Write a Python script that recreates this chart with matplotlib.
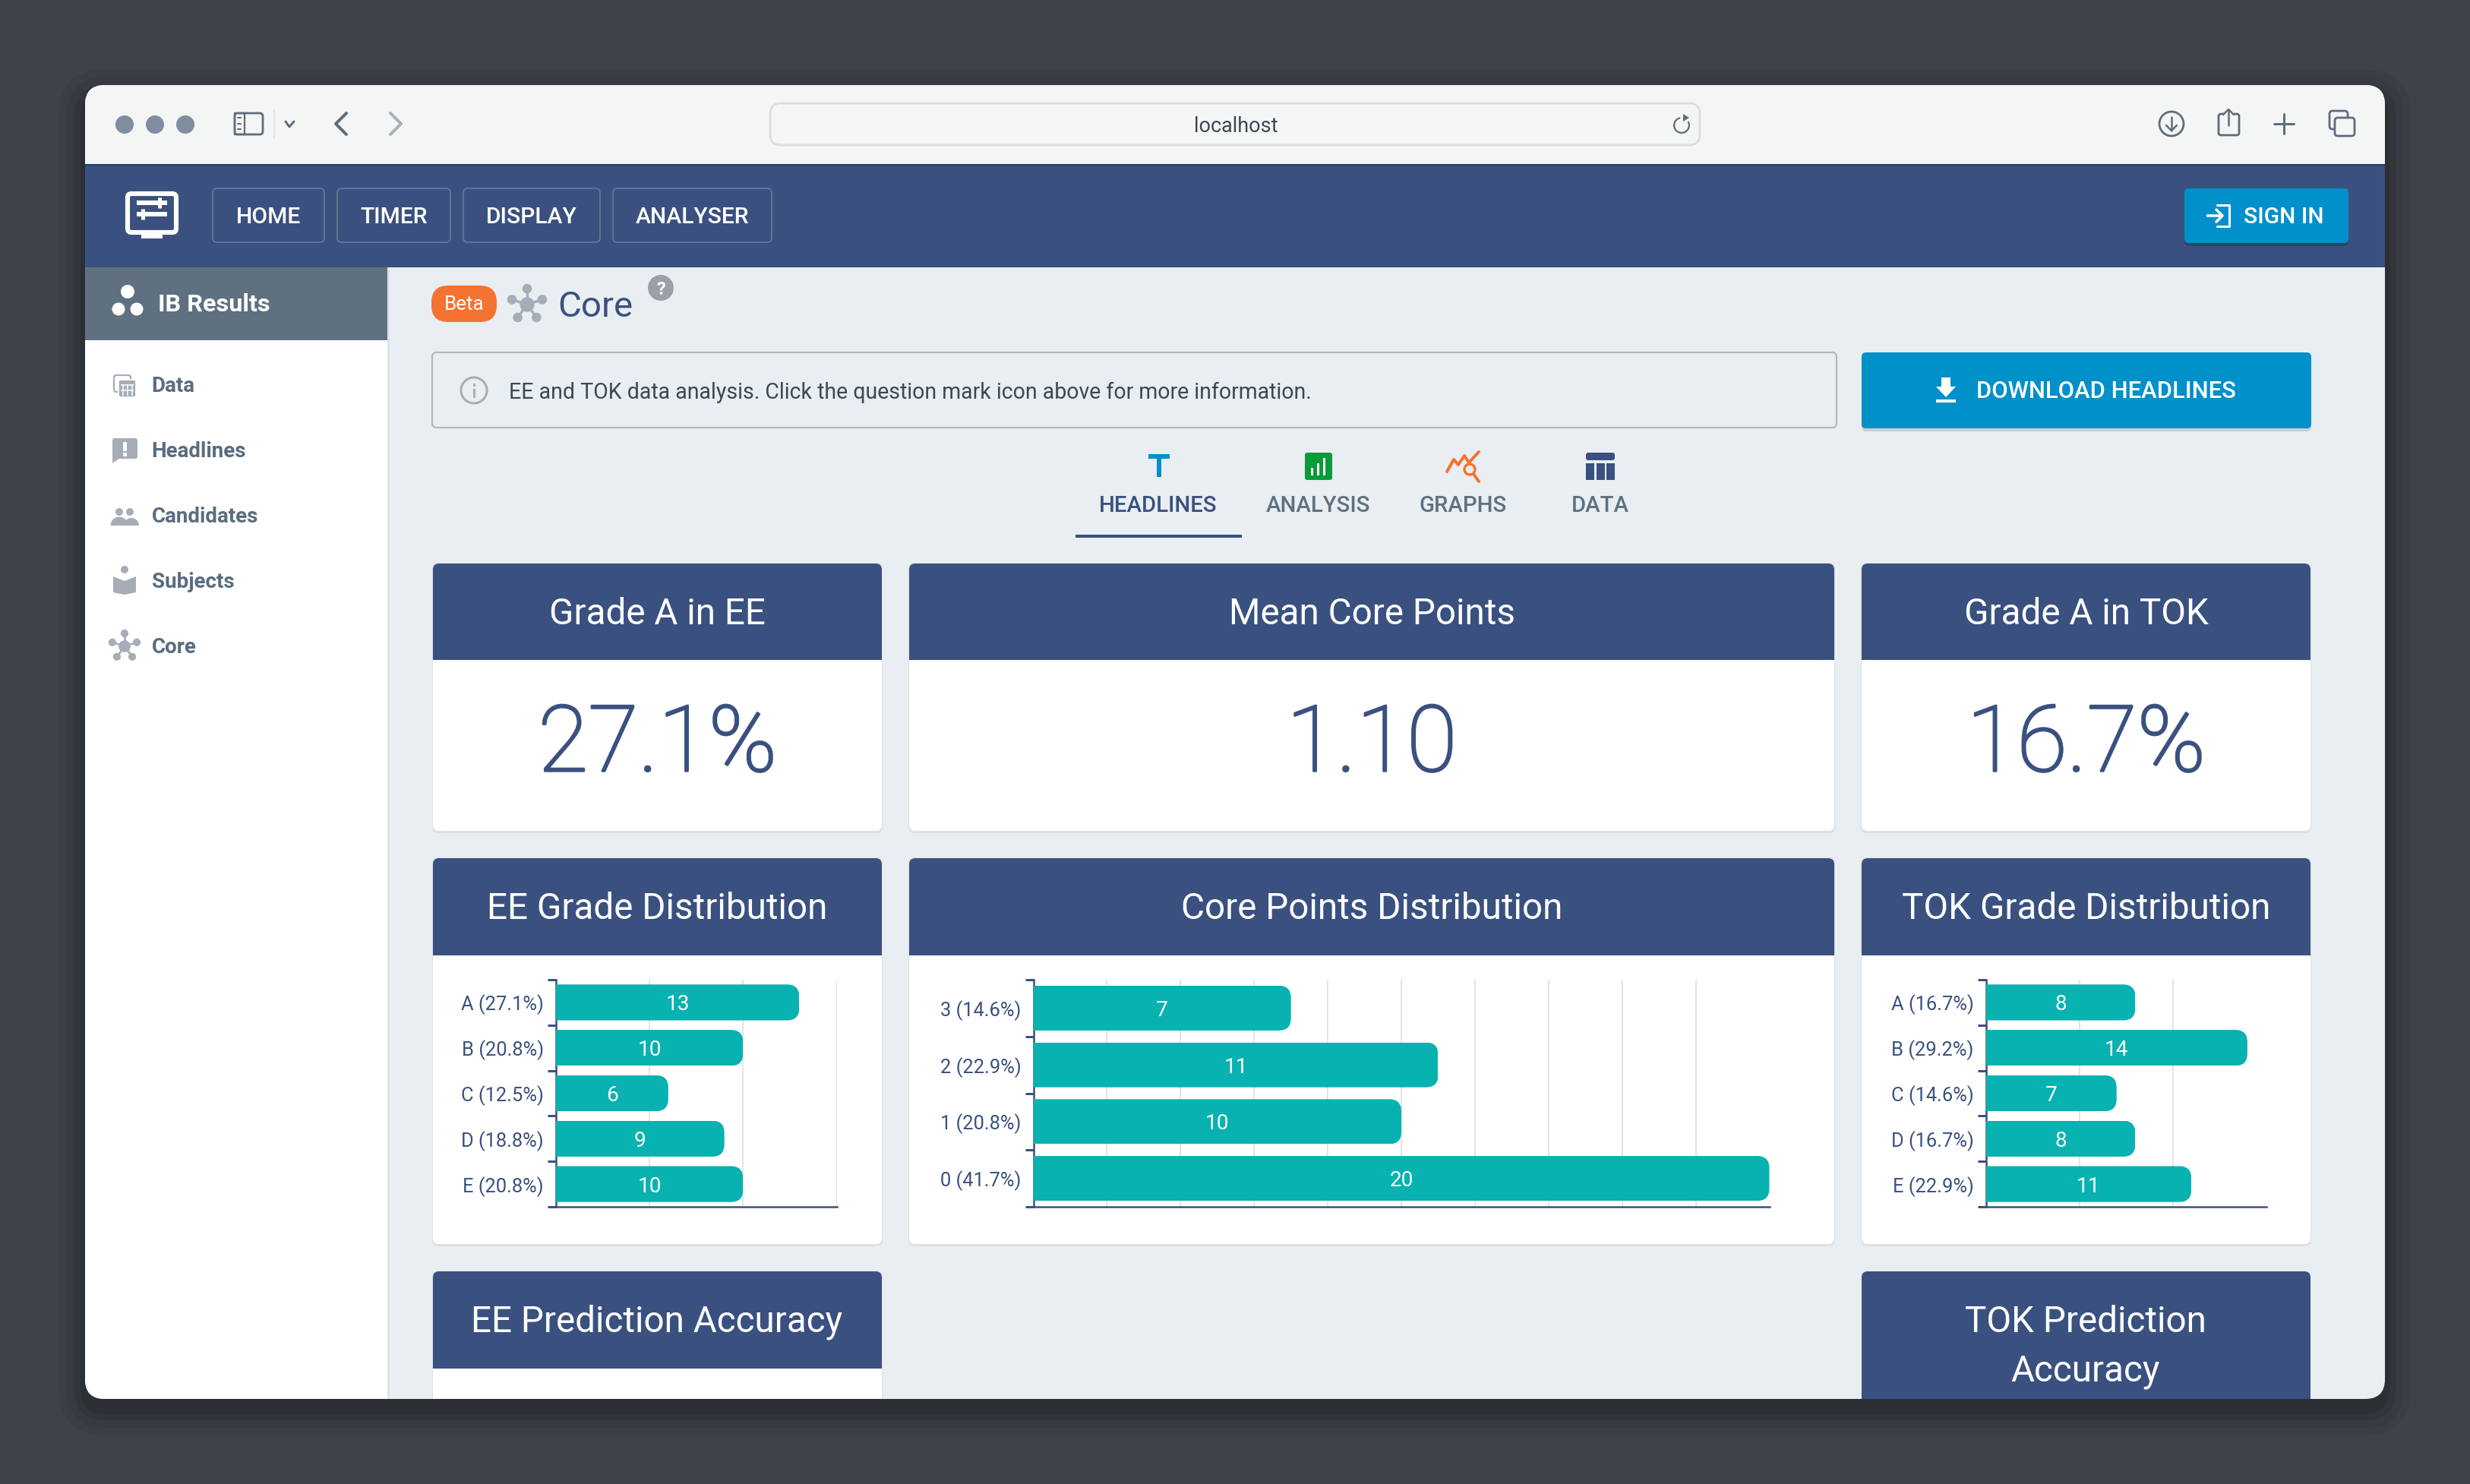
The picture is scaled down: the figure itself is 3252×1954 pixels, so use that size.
"""Redraw the IB Results "Core" dashboard screenshot with matplotlib."""

import matplotlib
matplotlib.use("Agg")
import matplotlib.patheffects as pe
import matplotlib.pyplot as plt
from matplotlib.patches import Circle, FancyBboxPatch, Polygon, Rectangle, Wedge
from matplotlib.path import Path

W, H = 3252, 1954
DPI = 200

plt.rcParams["font.family"] = ["Roboto", "DejaVu Sans"]

NAVY = "#3a5180"
TEAL = "#08b2b0"
BLUE = "#0090ca"
ORANGE = "#f57330"
PAGE = "#e9eef2"
GRID = "#e2e4e7"
SLATE = "#5f7180"
ICON = "#a6adb8"

# chart data
ee_labels = ["A (27.1%)", "B (20.8%)", "C (12.5%)", "D (18.8%)", "E (20.8%)"]
ee_values = [13, 10, 6, 9, 10]
core_labels = ["3 (14.6%)", "2 (22.9%)", "1 (20.8%)", "0 (41.7%)"]
core_values = [7, 11, 10, 20]
tok_labels = ["A (16.7%)", "B (29.2%)", "C (14.6%)", "D (16.7%)", "E (22.9%)"]
tok_values = [8, 14, 7, 8, 11]

ee_grid = [5, 10, 15]
core_grid = [2, 4, 6, 8, 10, 12, 14, 16, 18]
tok_grid = [5, 10]

nav_items = ["HOME", "TIMER", "DISPLAY", "ANALYSER"]
side_items = ["Data", "Headlines", "Candidates", "Subjects", "Core"]
tab_items = ["HEADLINES", "ANALYSIS", "GRAPHS", "DATA"]
headline_titles = ["Grade A in EE", "Mean Core Points", "Grade A in TOK"]
headline_values = ["27.1%", "1.10", "16.7%"]
dist_titles = ["EE Grade Distribution", "Core Points Distribution", "TOK Grade Distribution"]


def fs(px):
    """Font size in points for a size in image pixels."""
    return px * 72 / DPI


fig = plt.figure(figsize=(W / DPI, H / DPI), dpi=DPI, facecolor="#3f4248")
bg = fig.add_axes([0, 0, 1, 1])
bg.set_xlim(0, W)
bg.set_ylim(H, 0)
bg.axis("off")


def rrect(x0, y0, x1, y1, r, **kw):
    kw.setdefault("linewidth", 0)
    p = FancyBboxPatch((x0, y0), x1 - x0, y1 - y0, boxstyle=f"round,pad=0,rounding_size={r}", **kw)
    bg.add_patch(p)
    return p


def rect(x0, y0, x1, y1, clip=None, **kw):
    kw.setdefault("linewidth", 0)
    p = Rectangle((x0, y0), x1 - x0, y1 - y0, **kw)
    bg.add_patch(p)
    if clip is not None:
        p.set_clip_path(clip)
    return p


def line(xs, ys, color, lw=3, **kw):
    bg.plot(xs, ys, color=color, lw=lw * 72 / DPI, solid_capstyle=kw.pop("cap", "round"), **kw)


def label(x, y, s, px, color="white", ha="center", weight="normal"):
    bg.text(x, y - 1.5, s, fontsize=fs(px), color=color, ha=ha, va="center_baseline", fontweight=weight)


def molecule(cx, cy, r, color):
    # hub with five satellites, used for the Core icon
    angles = [(0, -1), (-0.95, -0.31), (0.95, -0.31), (-0.59, 0.81), (0.59, 0.81)]
    for dx, dy in angles:
        line([cx, cx + dx * r], [cy, cy + dy * r], color, lw=r * 0.16)
        bg.add_patch(Circle((cx + dx * r, cy + dy * r), r * 0.3, color=color, lw=0))
    bg.add_patch(Circle((cx, cy), r * 0.46, color=color, lw=0))


# window with a soft shadow
for grow, a in [(34, 0.05), (24, 0.06), (14, 0.08), (6, 0.10)]:
    rrect(112 - grow, 112 - grow + 14, 3140 + grow, 1842 + grow + 14, 26 + grow, facecolor="black", alpha=a)
win = rrect(112, 112, 3140, 1842, 26, facecolor=PAGE)

# browser toolbar
rect(112, 112, 3140, 216, clip=win, facecolor="#f4f6f5")
rect(112, 216, 3140, 218, clip=win, facecolor="#243a66")
for x in [164, 204, 244]:
    bg.add_patch(Circle((x, 164), 12, color="#7f8da1", lw=0))
rrect(309, 149, 346, 177, 4, facecolor="none", edgecolor="#5e6c7c", linewidth=1.0)
rect(309, 149, 322, 177, facecolor="none", edgecolor="#5e6c7c", linewidth=0.8)
for y in [155, 163, 170]:
    line([313, 317], [y, y], "#5e6c7c", lw=2)
line([361, 361], [146, 182], "#dfe3e4", lw=2)
line([376, 381, 387], [160, 167, 160], "#5e6c7c", lw=3)
line([456, 442, 456], [149, 163, 177], "#5e6c7c", lw=4)
line([514, 528, 514], [149, 163, 177], "#a9b1ba", lw=4)
rrect(1014, 136, 2238, 191, 14, facecolor="#f4f6f5", edgecolor="#dadedf", linewidth=1.0)
label(1627, 165, "localhost", 27, color="#3d4852")
bg.add_patch(Wedge((2214, 165), 11, -30, 260, width=2.2, color="#5e6c7c", lw=0))
bg.add_patch(Polygon([[2216, 150], [2216, 160], [2224, 155]], color="#5e6c7c", lw=0))
bg.add_patch(Circle((2859, 163), 16, facecolor="none", edgecolor="#5e6c7c", lw=1.0))
line([2859, 2859], [154, 172], "#5e6c7c", lw=2.5)
line([2852, 2859, 2866], [165, 172, 165], "#5e6c7c", lw=2.5)
rrect(2921, 150, 2948, 178, 3, facecolor="none", edgecolor="#5e6c7c", linewidth=1.0)
rect(2928, 146, 2941, 154, facecolor="#f4f6f5")
line([2934, 2934], [146, 165], "#5e6c7c", lw=2.5)
line([2927, 2934, 2941], [151, 144, 151], "#5e6c7c", lw=2.5)
line([3007, 3007], [150, 176], "#5e6c7c", lw=3)
line([2994, 3020], [163, 163], "#5e6c7c", lw=3)
rrect(3067, 146, 3091, 170, 4, facecolor="none", edgecolor="#5e6c7c", linewidth=1.0)
rrect(3074, 155, 3100, 179, 4, facecolor="#f4f6f5", edgecolor="#5e6c7c", linewidth=1.0)

# app bar
rect(112, 218, 3140, 352, clip=win, facecolor=NAVY)
rrect(168, 255, 232, 306, 5, facecolor="none", edgecolor="white", linewidth=2.2)
rect(186, 307, 214, 314, facecolor="white")
line([180, 220], [267, 267], "white", lw=6, cap="butt")
line([180, 220], [282, 282], "white", lw=6, cap="butt")
line([210, 210], [260, 274], "white", lw=5, cap="butt")
line([188, 188], [275, 289], "white", lw=5, cap="butt")
nav_x = [(280, 427), (444, 593), (610, 790), (807, 1016)]
for (x0, x1), s in zip(nav_x, nav_items):
    rrect(x0, 248, x1, 319, 6, facecolor="none", edgecolor="#67789a", linewidth=0.6)
    label((x0 + x1) / 2, 285, s, 30, weight="medium")
rrect(2876, 252, 3092, 324, 6, facecolor="#2d4369")
rrect(2876, 248, 3092, 320, 6, facecolor=BLUE)
line([2905, 2926], [284, 284], "white", lw=3.5, cap="butt")
line([2918, 2926, 2918], [276, 284, 292], "white", lw=3.5)
line([2919, 2935, 2935, 2919], [270, 270, 298, 298], "white", lw=3)
label(3007, 285, "SIGN IN", 30, weight="medium")

# sidebar
rect(112, 352, 510, 1842, clip=win, facecolor="white")
rect(510, 352, 513, 1842, facecolor="#dfe3e7")
rect(112, 352, 510, 448, facecolor=SLATE)
for x, y, r in [(168, 384, 9), (156, 407, 8.5), (180, 407, 8.5)]:
    bg.add_patch(Circle((x, y), r, color="white", lw=0))
label(208, 399, "IB Results", 32.5, ha="left", weight="bold")

side_y = [507, 593, 679, 765, 851]
for y, s in zip(side_y, side_items):
    label(199.5, y, s, 27.8, color="#5a6c80", ha="left", weight="bold")
# Data icon
rrect(150, 494, 172, 516, 3, facecolor="none", edgecolor=ICON, linewidth=0.8)
rrect(156, 500, 179, 523, 3, facecolor=ICON, edgecolor="white", linewidth=0.6)
for y in [507, 514]:
    line([159, 176], [y, y], "white", lw=1.5, cap="butt")
for x in [162, 168, 174]:
    line([x, x], [506, 521], "white", lw=1.5, cap="butt")
# Headlines icon
rrect(148, 577, 181, 604, 3, facecolor=ICON)
bg.add_patch(Polygon([[148, 600], [148, 610], [158, 603]], color=ICON, lw=0))
rect(162, 582, 167, 594, facecolor="white")
rect(162, 596, 167, 601, facecolor="white")
# Candidates icon
for x in [157, 171]:
    bg.add_patch(Circle((x, 674), 5, color=ICON, lw=0))
bg.add_patch(Wedge((157, 692), 11.5, 180, 360, color=ICON, lw=0))
bg.add_patch(Wedge((173, 692), 10, 180, 360, color=ICON, lw=0))
# Subjects icon
bg.add_patch(Circle((164, 750), 5, color=ICON, lw=0))
bg.add_patch(Polygon([[149, 759], [164, 765], [179, 759], [179, 780], [164, 783], [149, 780]], color=ICON, lw=0))
molecule(164, 851, 17, ICON)

# page heading
rrect(568, 376, 654, 424, 22, facecolor=ORANGE)
label(611, 400, "Beta", 26)
molecule(694, 401, 21, ICON)
label(734, 401, "Core", 47.5, color=NAVY, ha="left")
bg.add_patch(Circle((870, 379), 17, color="#9b9fa6", lw=0))
label(870, 381, "?", 24, weight="bold")

# info strip
rrect(569, 464, 2418, 563, 6, facecolor=PAGE, edgecolor="#b4b8bc", linewidth=0.8)
bg.add_patch(Circle((624, 514), 17, facecolor="none", edgecolor="#a9aeb3", lw=1.1))
rect(622.5, 512, 625.5, 524, facecolor="#a9aeb3")
rect(622.5, 505, 625.5, 509, facecolor="#a9aeb3")
label(670, 515, "EE and TOK data analysis. Click the question mark icon above for more information.", 28.55,
      color="#3d4852", ha="left")

# download button
rrect(2451, 468, 3043, 568, 6, facecolor="#c9d0d6")
rrect(2451, 464, 3043, 564, 6, facecolor=BLUE)
rect(2556, 497, 2568, 510, facecolor="white")
bg.add_patch(Polygon([[2549, 509], [2575, 509], [2562, 523]], color="white", lw=0))
rect(2549, 526, 2575, 530, facecolor="white")
label(2773, 514, "DOWNLOAD HEADLINES", 31, weight="medium")

# tabs
tab_x = [1524, 1735, 1926, 2106]
tab_colors = [NAVY, SLATE, SLATE, SLATE]
for x, s, c in zip(tab_x, tab_items, tab_colors):
    label(x + 0.5, 665, s, 29.4, color=c, weight="medium")
rect(1416, 704, 1635, 708, facecolor=NAVY)
rect(1512, 598, 1540, 604, facecolor=BLUE)
rect(1523, 598, 1529, 628, facecolor=BLUE)
rrect(1718, 596, 1754, 632, 3, facecolor="#0a9b3a")
rect(1726, 616, 1729, 626, facecolor="white")
rect(1734, 610, 1737, 626, facecolor="white")
rect(1742, 603, 1745, 626, facecolor="white")
line([1905, 1914, 1920, 1928, 1934, 1947], [621, 605, 612, 600, 609, 595], ORANGE, lw=4)
bg.add_patch(Circle((1935, 618), 7, facecolor="none", edgecolor=ORANGE, lw=1.2))
line([1940, 1947], [624, 634], ORANGE, lw=4)
rrect(2088, 596, 2126, 606, 3, facecolor=NAVY)
for x0 in [2088, 2102, 2115]:
    rect(x0, 610, x0 + 11, 632, facecolor=NAVY)

# cards
card_x = [(570, 1161), (1197, 2415), (2451, 3042)]


def card(x0, x1, y0, y1, y_head, clip=None):
    s = rrect(x0 - 1, y0 - 1, x1 + 1, y1 + 3, 8, facecolor="#dde1e5")
    c = rrect(x0, y0, x1, y1, 8, facecolor="white")
    rect(x0, y0, x1, y_head, clip=c, facecolor=NAVY)
    if clip is not None:
        s.set_clip_path(clip)
        c.set_clip_path(clip)
    return c


for (x0, x1), title, value in zip(card_x, headline_titles, headline_values):
    card(x0, x1, 742, 1094, 869)
    label((x0 + x1) / 2, 806, title, 47.6)
    bg.text((x0 + x1) / 2, 970, value, fontsize=fs(121), color=NAVY, ha="center", va="center_baseline",
            fontweight="light", path_effects=[pe.withStroke(linewidth=1.0, foreground=NAVY)])

for (x0, x1), title in zip(card_x, dist_titles):
    card(x0, x1, 1130, 1638, 1258)
    label((x0 + x1) / 2, 1193, title, 47.6)


def draw_chart(x0, x1, labels, values, xmax, ticks):
    # plot area spans y 1290..1589 in image pixels
    y0, y1 = 1290, 1589
    ax = fig.add_axes([x0 / W, 1 - y1 / H, (x1 - x0) / W, (y1 - y0) / H], facecolor="none")
    n = len(values)
    centers = [i + 0.5 for i in range(n)]
    bars = ax.barh(centers, values, height=0.79, color=TEAL, zorder=3)
    ax.set_xlim(0, xmax)
    ax.set_ylim(n, 0)

    # round the two right corners of each bar
    rx = 16 * xmax / (x1 - x0)
    ry = 16 * n / (y1 - y0)
    for b in bars:
        bx, by, bw, bh = b.get_x(), b.get_y(), b.get_width(), b.get_height()
        verts = [(bx, by), (bx + bw - rx, by), (bx + bw, by), (bx + bw, by + ry), (bx + bw, by + bh - ry),
                 (bx + bw, by + bh), (bx + bw - rx, by + bh), (bx, by + bh), (bx, by)]
        codes = [Path.MOVETO, Path.LINETO, Path.CURVE3, Path.CURVE3, Path.LINETO, Path.CURVE3, Path.CURVE3,
                 Path.LINETO, Path.CLOSEPOLY]
        b.set_clip_path(Path(verts, codes), ax.transData)

    for c, v in zip(centers, values):
        ax.text(v / 2, c, str(v), color="white", fontsize=fs(28), ha="center", va="center_baseline", zorder=4)

    ax.set_xticks(ticks)
    ax.set_xticklabels([])
    ax.tick_params(axis="x", length=0)
    ax.grid(axis="x", color=GRID, linewidth=2 * 72 / DPI)
    ax.set_axisbelow(True)

    ax.set_yticks(range(n + 1))
    ax.set_yticklabels([])
    ax.set_yticks(centers, labels=labels, minor=True)
    ax.tick_params(axis="y", which="major", length=11 * 72 / DPI, width=3 * 72 / DPI, color=NAVY)
    ax.tick_params(axis="y", which="minor", length=0, pad=16 * 72 / DPI, labelsize=fs(25.5), labelcolor=NAVY)

    for side in ["top", "right"]:
        ax.spines[side].set_visible(False)
    for side in ["left", "bottom"]:
        ax.spines[side].set_color(NAVY)
        ax.spines[side].set_linewidth(2.5 * 72 / DPI)
    return ax


draw_chart(732, 1101.5, ee_labels, ee_values, 15, ee_grid)
draw_chart(1360.5, 2329.5, core_labels, core_values, 20, core_grid)
draw_chart(2614.5, 2983.5, tok_labels, tok_values, 15, tok_grid)

# bottom row, cut off by the window edge
card(570, 1161, 1674, 1900, 1802, clip=win)
label(865, 1737, "EE Prediction Accuracy", 47.6)
c = rrect(2451, 1674, 3042, 1900, 8, facecolor=NAVY)
c.set_clip_path(win)
label(2746, 1738, "TOK Prediction", 47.6)
label(2746, 1802, "Accuracy", 47.6)

fig.savefig("out.png", dpi=DPI, facecolor=fig.get_facecolor())
